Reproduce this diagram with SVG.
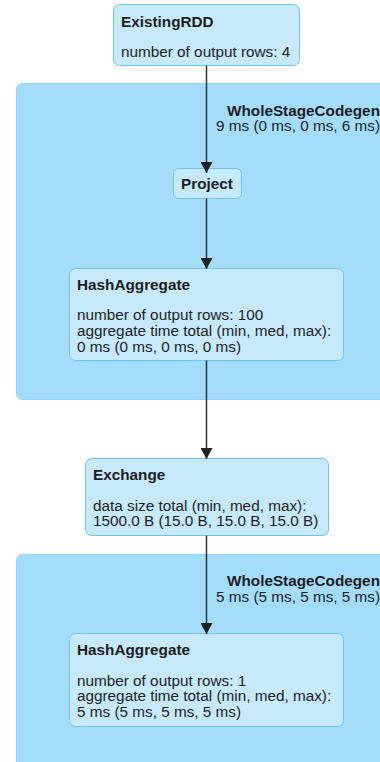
<svg xmlns="http://www.w3.org/2000/svg" width="380" height="762" viewBox="0 0 380 762">
<style>
.cluster{fill:#A3DDFB;stroke:#8CD2F5;stroke-width:1}
.node{fill:#C6E9FB;stroke:#6FC4EE;stroke-width:1}
text{font-family:"Liberation Sans",Arial,sans-serif;font-size:15.3px;fill:#1e1e1e}
.b{font-weight:bold}
.edge{stroke:#333;stroke-width:1.5;fill:none;marker-end:url(#arr)}
</style>
<defs>
<marker id="arr" viewBox="0 0 11 12" refX="11" refY="6" markerWidth="11" markerHeight="12" orient="auto" markerUnits="userSpaceOnUse">
<path d="M0,0 L11,6 L0,12 z" fill="#222"/>
</marker>
</defs>
<rect width="380" height="762" fill="#fff"/>
<g id="cluster1">
<rect class="cluster" x="16.5" y="83.5" width="380" height="316" rx="6"/>
<text class="b" x="227" y="115.5">WholeStageCodegen</text>
<text x="216" y="131">9 ms (0 ms, 0 ms, 6 ms)</text>
</g>
<g id="cluster2">
<rect class="cluster" x="16.5" y="554.5" width="380" height="220" rx="6"/>
<text class="b" x="227" y="586">WholeStageCodegen</text>
<text x="216" y="601.5">5 ms (5 ms, 5 ms, 5 ms)</text>
</g>
<g id="ExistingRDD">
<rect class="node" x="113.5" y="4.5" width="186" height="61" rx="6"/>
<text class="b" x="121" y="26.5">ExistingRDD</text>
<text x="121" y="57">number of output rows: 4</text>
</g>
<g id="Project">
<rect class="node" x="173.5" y="168.5" width="68" height="30" rx="5"/>
<text class="b" x="207" y="188.5" text-anchor="middle">Project</text>
</g>
<g id="HashAggregate1">
<rect class="node" x="69.5" y="268.5" width="274" height="92" rx="6"/>
<text class="b" x="77" y="290">HashAggregate</text>
<text x="77" y="320">number of output rows: 100</text>
<text x="77" y="335.8">aggregate time total (min, med, max):</text>
<text x="77" y="351.5">0 ms (0 ms, 0 ms, 0 ms)</text>
</g>
<g id="Exchange">
<rect class="node" x="85.5" y="458.5" width="243" height="77" rx="6"/>
<text class="b" x="93" y="480">Exchange</text>
<text x="93" y="510.5">data size total (min, med, max):</text>
<text x="93" y="526">1500.0 B (15.0 B, 15.0 B, 15.0 B)</text>
</g>
<g id="HashAggregate2">
<rect class="node" x="69.5" y="633.5" width="274" height="93" rx="6"/>
<text class="b" x="77" y="655">HashAggregate</text>
<text x="77" y="685.5">number of output rows: 1</text>
<text x="77" y="701.3">aggregate time total (min, med, max):</text>
<text x="77" y="717">5 ms (5 ms, 5 ms, 5 ms)</text>
</g>
<g id="edges">
<line class="edge" x1="206.5" y1="65.5" x2="206.5" y2="173"/>
<line class="edge" x1="206.5" y1="198.5" x2="206.5" y2="269"/>
<line class="edge" x1="206.5" y1="360.5" x2="206.5" y2="459"/>
<line class="edge" x1="206.5" y1="535.5" x2="206.5" y2="634"/>
</g>
</svg>
